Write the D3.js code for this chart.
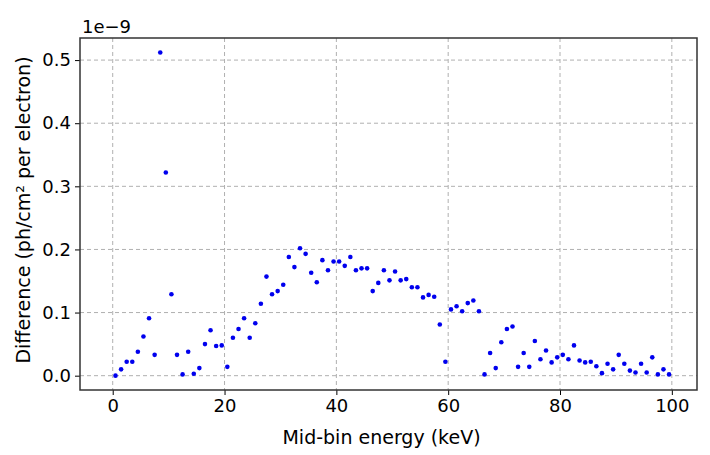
<!DOCTYPE html>
<html>
<head>
<script src="https://d3js.org/d3.v7.min.js"></script>
<style>
  body { margin: 0; background: #fff; }
  text { font-family: "DejaVu Sans", sans-serif; }
</style>
</head>
<body>
<svg id="chart" width="710" height="455"></svg>
<script>
// difference values (units of 1e-9), one per 1 keV bin, mid-bin energies 0.5 .. 99.5
var diffValues = [
  0.000, 0.010, 0.022, 0.022, 0.038, 0.062, 0.091, 0.033, 0.512, 0.322,
  0.129, 0.033, 0.002, 0.038, 0.003, 0.012, 0.050, 0.072, 0.047, 0.048,
  0.014, 0.060, 0.074, 0.091, 0.060, 0.083, 0.114, 0.157, 0.129, 0.134,
  0.144, 0.188, 0.172, 0.202, 0.193, 0.163, 0.148, 0.183, 0.167, 0.181,
  0.181, 0.174, 0.188, 0.167, 0.170, 0.170, 0.134, 0.147, 0.167, 0.151,
  0.165, 0.151, 0.153, 0.140, 0.140, 0.124, 0.128, 0.125, 0.081, 0.022,
  0.105, 0.110, 0.102, 0.115, 0.119, 0.102, 0.002, 0.036, 0.012, 0.053,
  0.074, 0.078, 0.014, 0.036, 0.014, 0.055, 0.026, 0.040, 0.021, 0.029,
  0.033, 0.026, 0.048, 0.024, 0.021, 0.022, 0.015, 0.004, 0.019, 0.010,
  0.033, 0.019, 0.008, 0.005, 0.019, 0.005, 0.029, 0.002, 0.010, 0.002
];
var energies = diffValues.map((d, i) => i + 0.5);
var xTicks = [0, 20, 40, 60, 80, 100];
var yTicks = [0.0, 0.1, 0.2, 0.3, 0.4, 0.5];

var pLeft = 80, pRight = 697, pTop = 38, pBottom = 390;
var svg = d3.select("#chart");

var x = d3.scaleLinear().domain([-5.85, 104.5]).range([pLeft, pRight]);
var y = d3.scaleLinear().domain([-0.0227, 0.535]).range([pBottom, pTop]);

// grid
svg.append("g").selectAll("line").data(xTicks).join("line")
  .attr("x1", d => x(d)).attr("x2", d => x(d))
  .attr("y1", pTop).attr("y2", pBottom)
  .attr("stroke", "#b0b0b0").attr("stroke-dasharray", "4,3");
svg.append("g").selectAll("line").data(yTicks).join("line")
  .attr("x1", pLeft).attr("x2", pRight)
  .attr("y1", d => y(d)).attr("y2", d => y(d))
  .attr("stroke", "#b0b0b0").attr("stroke-dasharray", "4,3");

// axes
var xAxis = svg.append("g").attr("transform", `translate(0,${pBottom})`)
  .call(d3.axisBottom(x).tickValues(xTicks).tickSize(5).tickPadding(4).tickFormat(d3.format("d")));
var yAxis = svg.append("g").attr("transform", `translate(${pLeft},0)`)
  .call(d3.axisLeft(y).tickValues(yTicks).tickSize(5).tickPadding(4).tickFormat(d3.format(".1f")));
[xAxis, yAxis].forEach(a => {
  a.select(".domain").remove();
  a.selectAll("text").attr("font-size", 18).attr("fill", "#000")
    .style("font-family", "DejaVu Sans, sans-serif");
  a.selectAll("line").attr("stroke", "#000");
});

// frame
svg.append("rect").attr("x", pLeft).attr("y", pTop)
  .attr("width", pRight - pLeft).attr("height", pBottom - pTop)
  .attr("fill", "none").attr("stroke", "#333").attr("stroke-width", 1.5);

// points
svg.append("g").selectAll("circle").data(diffValues).join("circle")
  .attr("cx", (d, i) => x(energies[i]))
  .attr("cy", d => y(d))
  .attr("r", 2.3)
  .attr("fill", "#0000ee");

// labels
svg.append("text").attr("x", 82).attr("y", 33).attr("font-size", 18).text("1e\u22129");
svg.append("text").attr("x", (pLeft + pRight) / 2 - 7).attr("y", 444)
  .attr("text-anchor", "middle").attr("font-size", 19).text("Mid-bin energy (keV)");
svg.append("text").attr("transform", `translate(30,${(pTop + pBottom) / 2 - 4}) rotate(-90)`)
  .attr("text-anchor", "middle").attr("font-size", 19).text("Difference (ph/cm² per electron)");
</script>
</body>
</html>
